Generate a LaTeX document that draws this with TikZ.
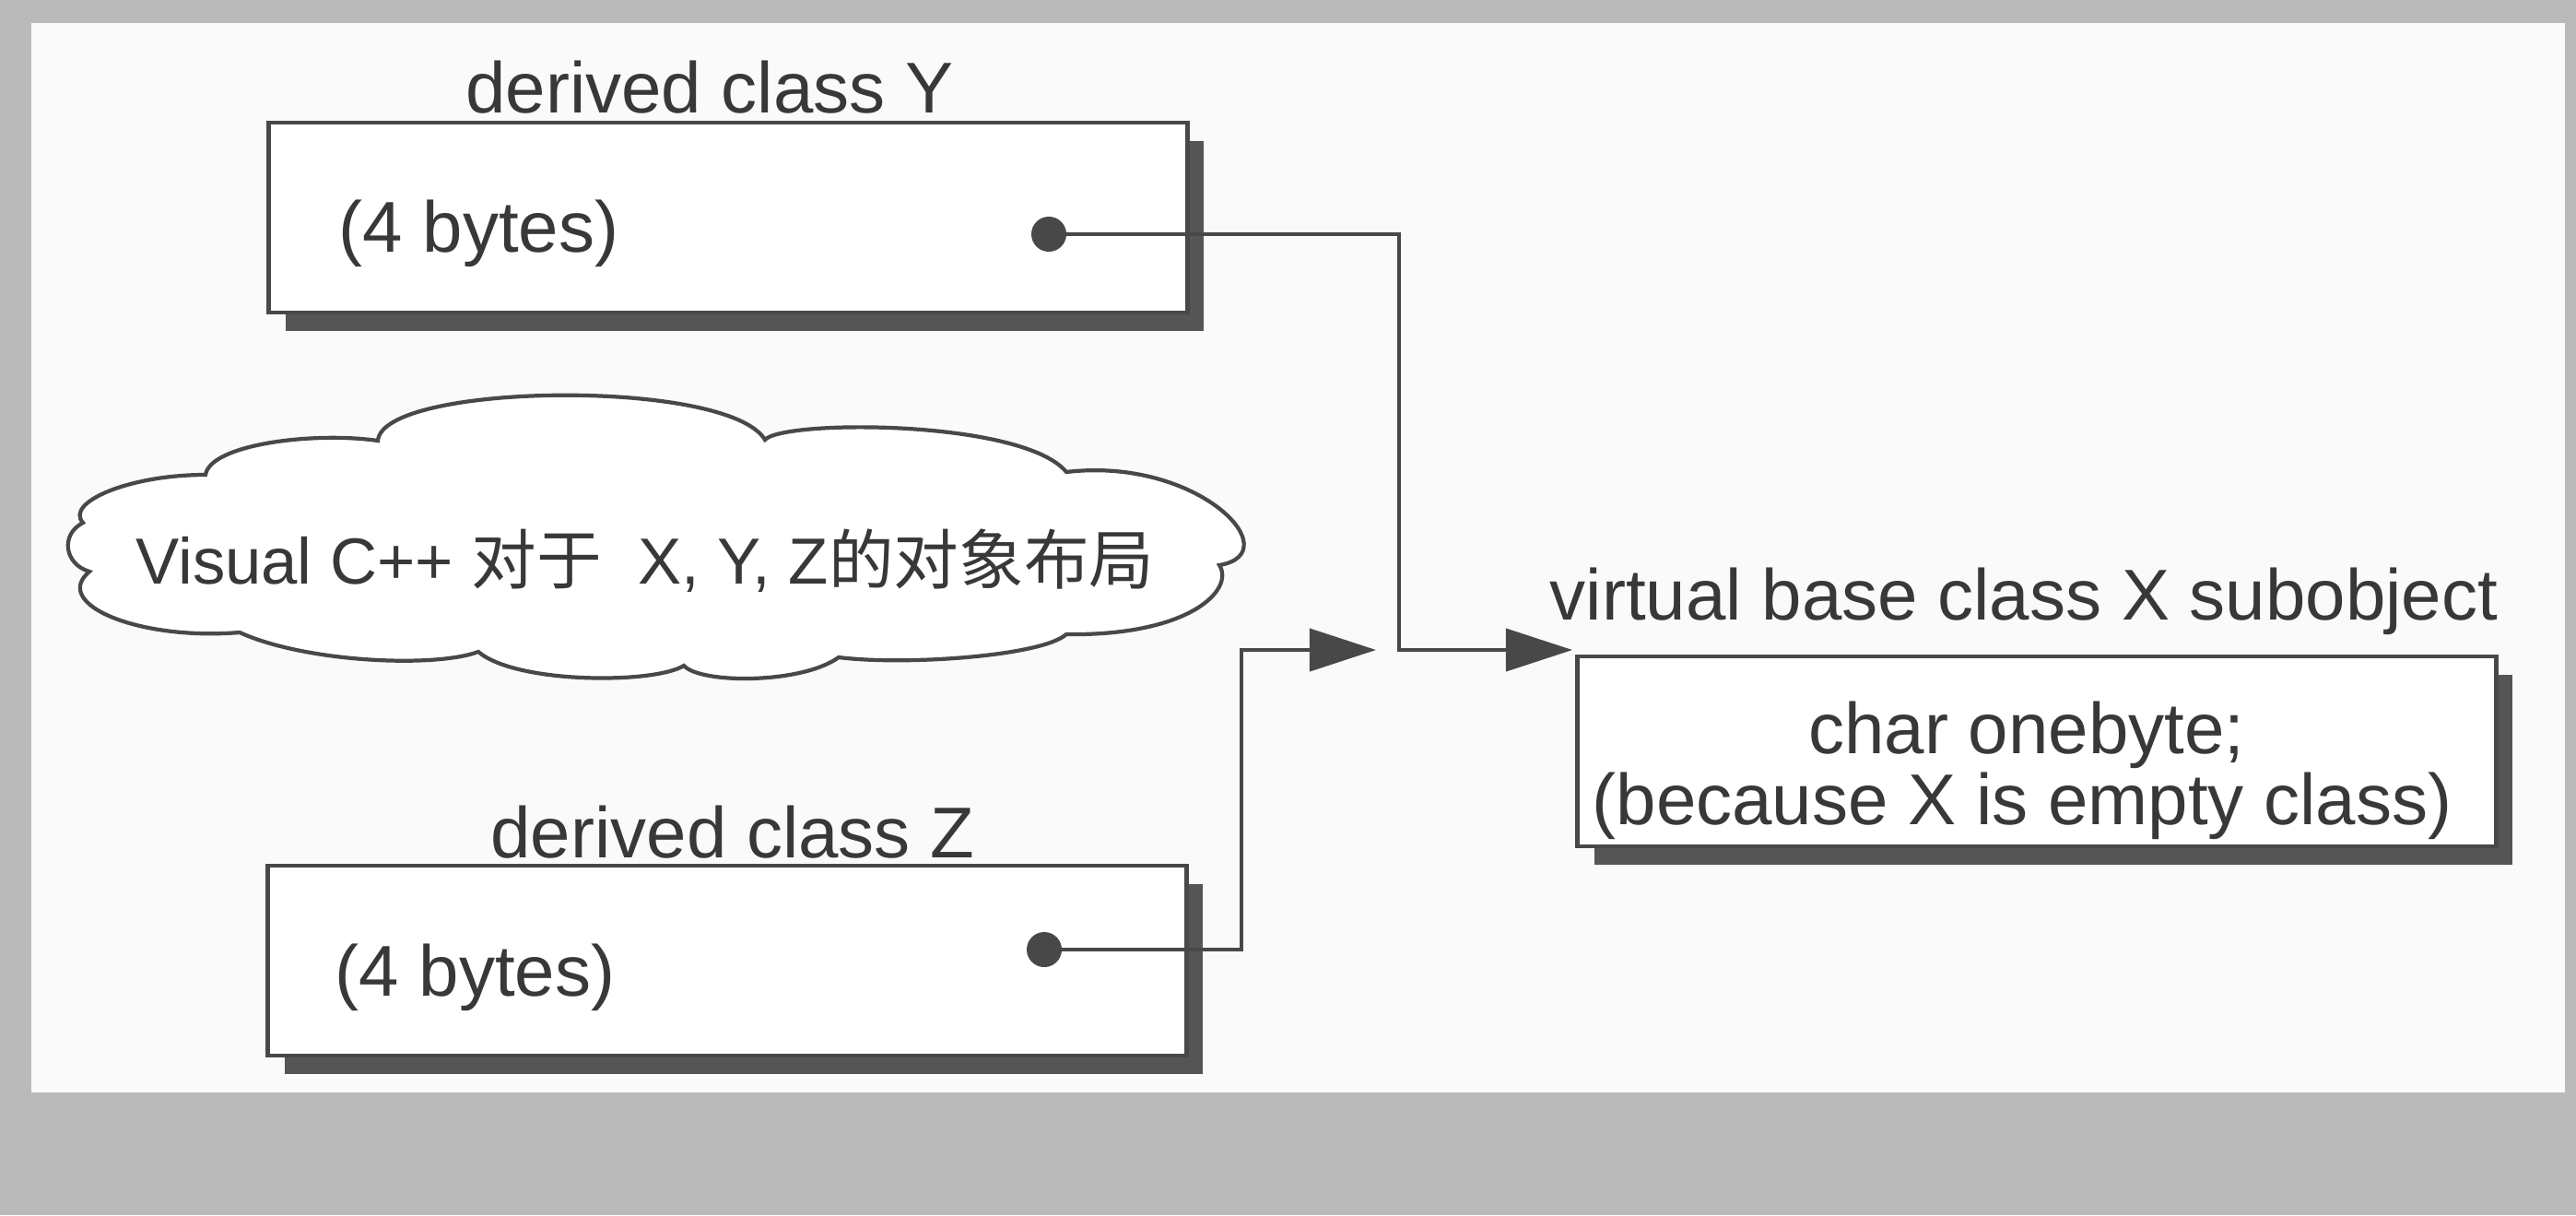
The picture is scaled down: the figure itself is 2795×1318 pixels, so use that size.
\documentclass[tikz,border=0pt]{standalone}
\usepackage{fontspec}
\setmainfont{Liberation Sans}
\newfontfamily\cjkfont{Noto Sans CJK SC}
\usetikzlibrary{arrows.meta,shadows}
\definecolor{bggray}{HTML}{BABABA}
\definecolor{paper}{HTML}{FAFAFA}
\definecolor{ink}{HTML}{383838}
\definecolor{lineink}{HTML}{484848}
\definecolor{shadowgray}{HTML}{555555}
\begin{document}
\begin{tikzpicture}[x=0.01cm,y=-0.01cm,
  lbl/.style={font=\fontsize{22.2}{26}\selectfont, text=ink, inner sep=0pt, anchor=base},
  cloudlbl/.style={font=\fontsize{20.1}{24}\selectfont, text=ink, inner sep=0pt, anchor=base},
  membox/.style={draw=lineink, line width=1.3pt, fill=white, minimum width=9.96cm, minimum height=2.06cm, inner sep=0pt,
    drop shadow={shadow xshift=0.18cm, shadow yshift=-0.2cm, opacity=1, fill=shadowgray}},
  conn/.style={draw=lineink, line width=1.1pt},
  dotnode/.style={circle, fill=lineink, draw=none, minimum size=0.38cm, inner sep=0pt},
  arr/.style={-{Triangle[length=0.72cm,width=0.46cm]}},
  cloudline/.style={draw=lineink, line width=1.2pt, fill=white}
]
\useasboundingbox (0,0) rectangle (2795,1318);
\fill[bggray] (0,0) rectangle (2795,1318);
\fill[paper] (34,25) rectangle (2783,1185);

% boxes
\node[membox] (boxY) at (790,236) {};
\node[membox] (boxZ) at (789,1042) {};
\node[membox] (boxX) at (2210,815) {};

% titles
\node[lbl] (titleY) at (770,122) {derived class Y};
\node[lbl] (titleZ) at (795,930) {derived class Z};
\node[lbl] (titleX) at (2196,672) {virtual base class X subobject};

% contents
\node[lbl, anchor=base west] (bytesY) at (367,273) {(4 bytes)};
\node[lbl, anchor=base west] (bytesZ) at (363,1080) {(4 bytes)};
\node[lbl] (charX) at (2199,817) {char onebyte;};
\node[lbl] (becX) at (2194,894) {(because X is empty class)};

% cloud
\draw[cloudline] (410,478) .. controls (415,415) and (790,410) .. (830,477)
 .. controls (850,455) and (1110,455) .. (1157,512)
 .. controls (1300,495) and (1400,600) .. (1323,613)
 .. controls (1340,640) and (1290,690) .. (1157,688)
 .. controls (1130,712) and (980,722) .. (910,713)
 .. controls (870,742) and (760,742) .. (742,722)
 .. controls (710,742) and (560,742) .. (519,707)
 .. controls (470,725) and (330,718) .. (260,686)
 .. controls (150,695) and (55,655) .. (97,620)
 .. controls (70,612) and (65,580) .. (90,567)
 .. controls (70,545) and (140,515) .. (223,515)
 .. controls (228,482) and (340,468) .. (410,478) -- cycle;
\node[cloudlbl] (cloudtext) at (700,633) {Visual C++ {\cjkfont 对于}\ \ X, Y, Z{\cjkfont 的对象布局}};

% connectors
\node[dotnode] (dotY) at (1138,254) {};
\node[dotnode] (dotZ) at (1133,1030) {};
\coordinate (bendY1) at (1518,254);
\coordinate (bendY2) at (1518,705);
\coordinate (tipY) at (1706,705);
\coordinate (bendZ1) at (1347,1030);
\coordinate (bendZ2) at (1347,705);
\coordinate (tipZ) at (1493,705);
\draw[conn,arr] (dotY.center) -- (bendY1) -- (bendY2) -- (tipY);
\draw[conn,arr] (dotZ.center) -- (bendZ1) -- (bendZ2) -- (tipZ);
\end{tikzpicture}
\end{document}
